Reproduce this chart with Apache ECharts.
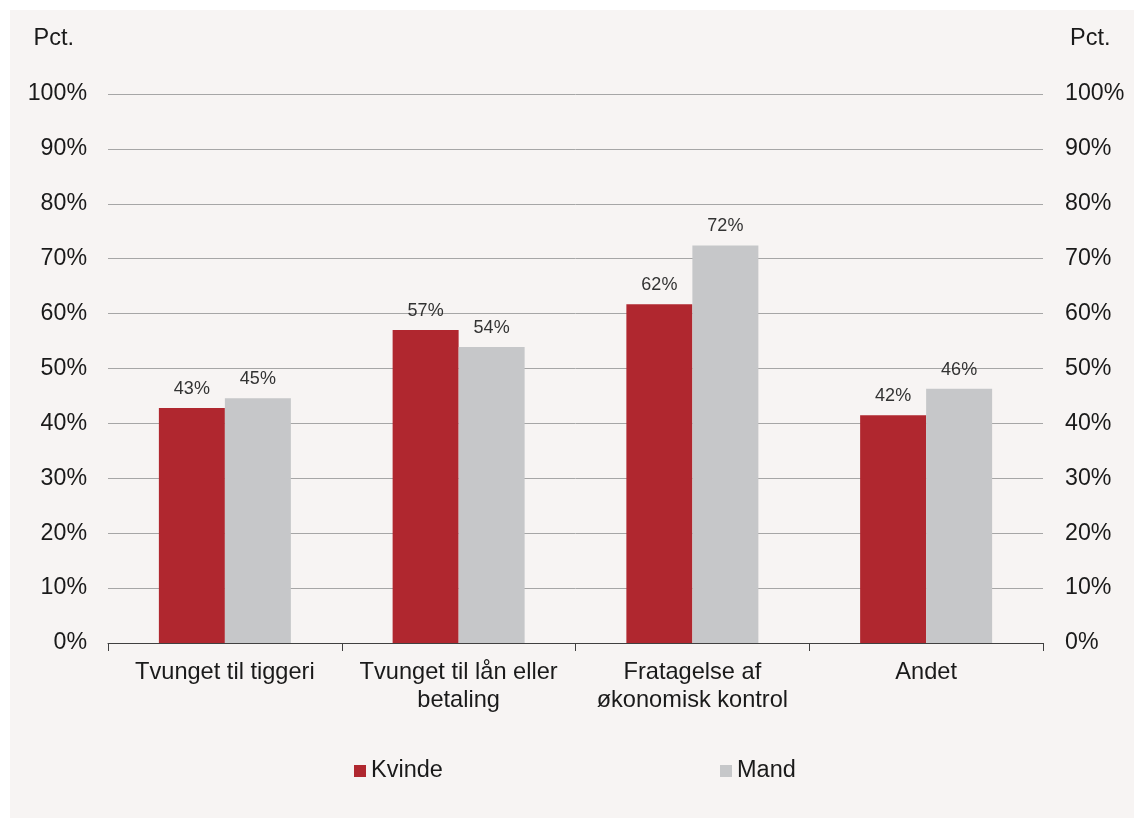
<!DOCTYPE html>
<html>
<head>
<meta charset="utf-8">
<script src="https://cdn.jsdelivr.net/npm/echarts@6/dist/echarts.min.js"></script>
<style>
html,body{margin:0;padding:0;background:#ffffff;}
#card{position:absolute;left:10px;top:10px;width:1124px;height:808px;background:#f7f4f3;}
#chart{position:absolute;left:0;top:0;width:1134px;height:818px;}
</style>
</head>
<body>
<div id="card"></div>
<div id="chart"></div>
<script>
const categories = ['Tvunget til tiggeri', 'Tvunget til lån eller\nbetaling', 'Fratagelse af\nøkonomisk kontrol', 'Andet'];
const kvinde = [42.8, 57.0, 61.7, 41.5];
const mand = [44.6, 53.9, 72.4, 46.3];
const seriesNames = ['Kvinde', 'Mand'];
const colors = ['#b0272f', '#c6c7c9'];

const chart = echarts.init(document.getElementById('chart'), null, {renderer: 'canvas'});
const font = 'Liberation Sans, Arial, sans-serif';
const txt = '#1a1a1a';
const yAxisCommon = {
  type: 'value', min: 0, max: 100, interval: 10,
  axisLine: {show: false}, axisTick: {show: false},
  axisLabel: {formatter: '{value}%', fontSize: 23.2, color: txt, fontFamily: font},
  name: 'Pct.', nameTextStyle: {fontSize: 23.5, color: txt, fontFamily: font}, nameGap: 43
};
const labelCfg = {show: true, position: 'top', distance: 10, fontSize: 18, color: '#333333', fontFamily: font,
  formatter: p => Math.round(p.value) + '%'};
chart.setOption({
  backgroundColor: 'transparent',
  animation: false,
  grid: {left: 108, right: 91, top: 94, bottom: 175},
  legend: [
    {data: [seriesNames[0]], left: 349, top: 754, itemWidth: 12, itemHeight: 12, icon: 'rect',
     textStyle: {fontSize: 23.5, color: txt, fontFamily: font}},
    {data: [seriesNames[1]], left: 715, top: 754, itemWidth: 12, itemHeight: 12, icon: 'rect',
     textStyle: {fontSize: 23.5, color: txt, fontFamily: font}}
  ],
  xAxis: {
    type: 'category', data: categories,
    axisLine: {lineStyle: {color: '#404040', width: 1}},
    axisTick: {show: true, length: 8, lineStyle: {color: '#404040'}},
    axisLabel: {fontSize: 23.6, color: txt, fontFamily: font, margin: 15, lineHeight: 28, interval: 0}
  },
  yAxis: [
    Object.assign({}, yAxisCommon, {position: 'left',
      axisLabel: Object.assign({}, yAxisCommon.axisLabel, {margin: 21}),
      nameTextStyle: Object.assign({}, yAxisCommon.nameTextStyle, {align: 'right', padding: [0, 34, 0, 0]}),
      splitLine: {show: true, lineStyle: {color: '#a6a6a6', width: 1}}}),
    Object.assign({}, yAxisCommon, {position: 'right',
      axisLabel: Object.assign({}, yAxisCommon.axisLabel, {margin: 22}),
      nameTextStyle: Object.assign({}, yAxisCommon.nameTextStyle, {align: 'left', padding: [0, 0, 0, 27]}),
      splitLine: {show: false}})
  ],
  series: [
    {name: seriesNames[0], type: 'bar', data: kvinde, barWidth: 66, barGap: '0%',
     itemStyle: {color: colors[0]}, label: labelCfg},
    {name: seriesNames[1], type: 'bar', data: mand, barWidth: 66, barGap: '0%',
     itemStyle: {color: colors[1]}, label: labelCfg}
  ]
});
</script>
</body>
</html>
